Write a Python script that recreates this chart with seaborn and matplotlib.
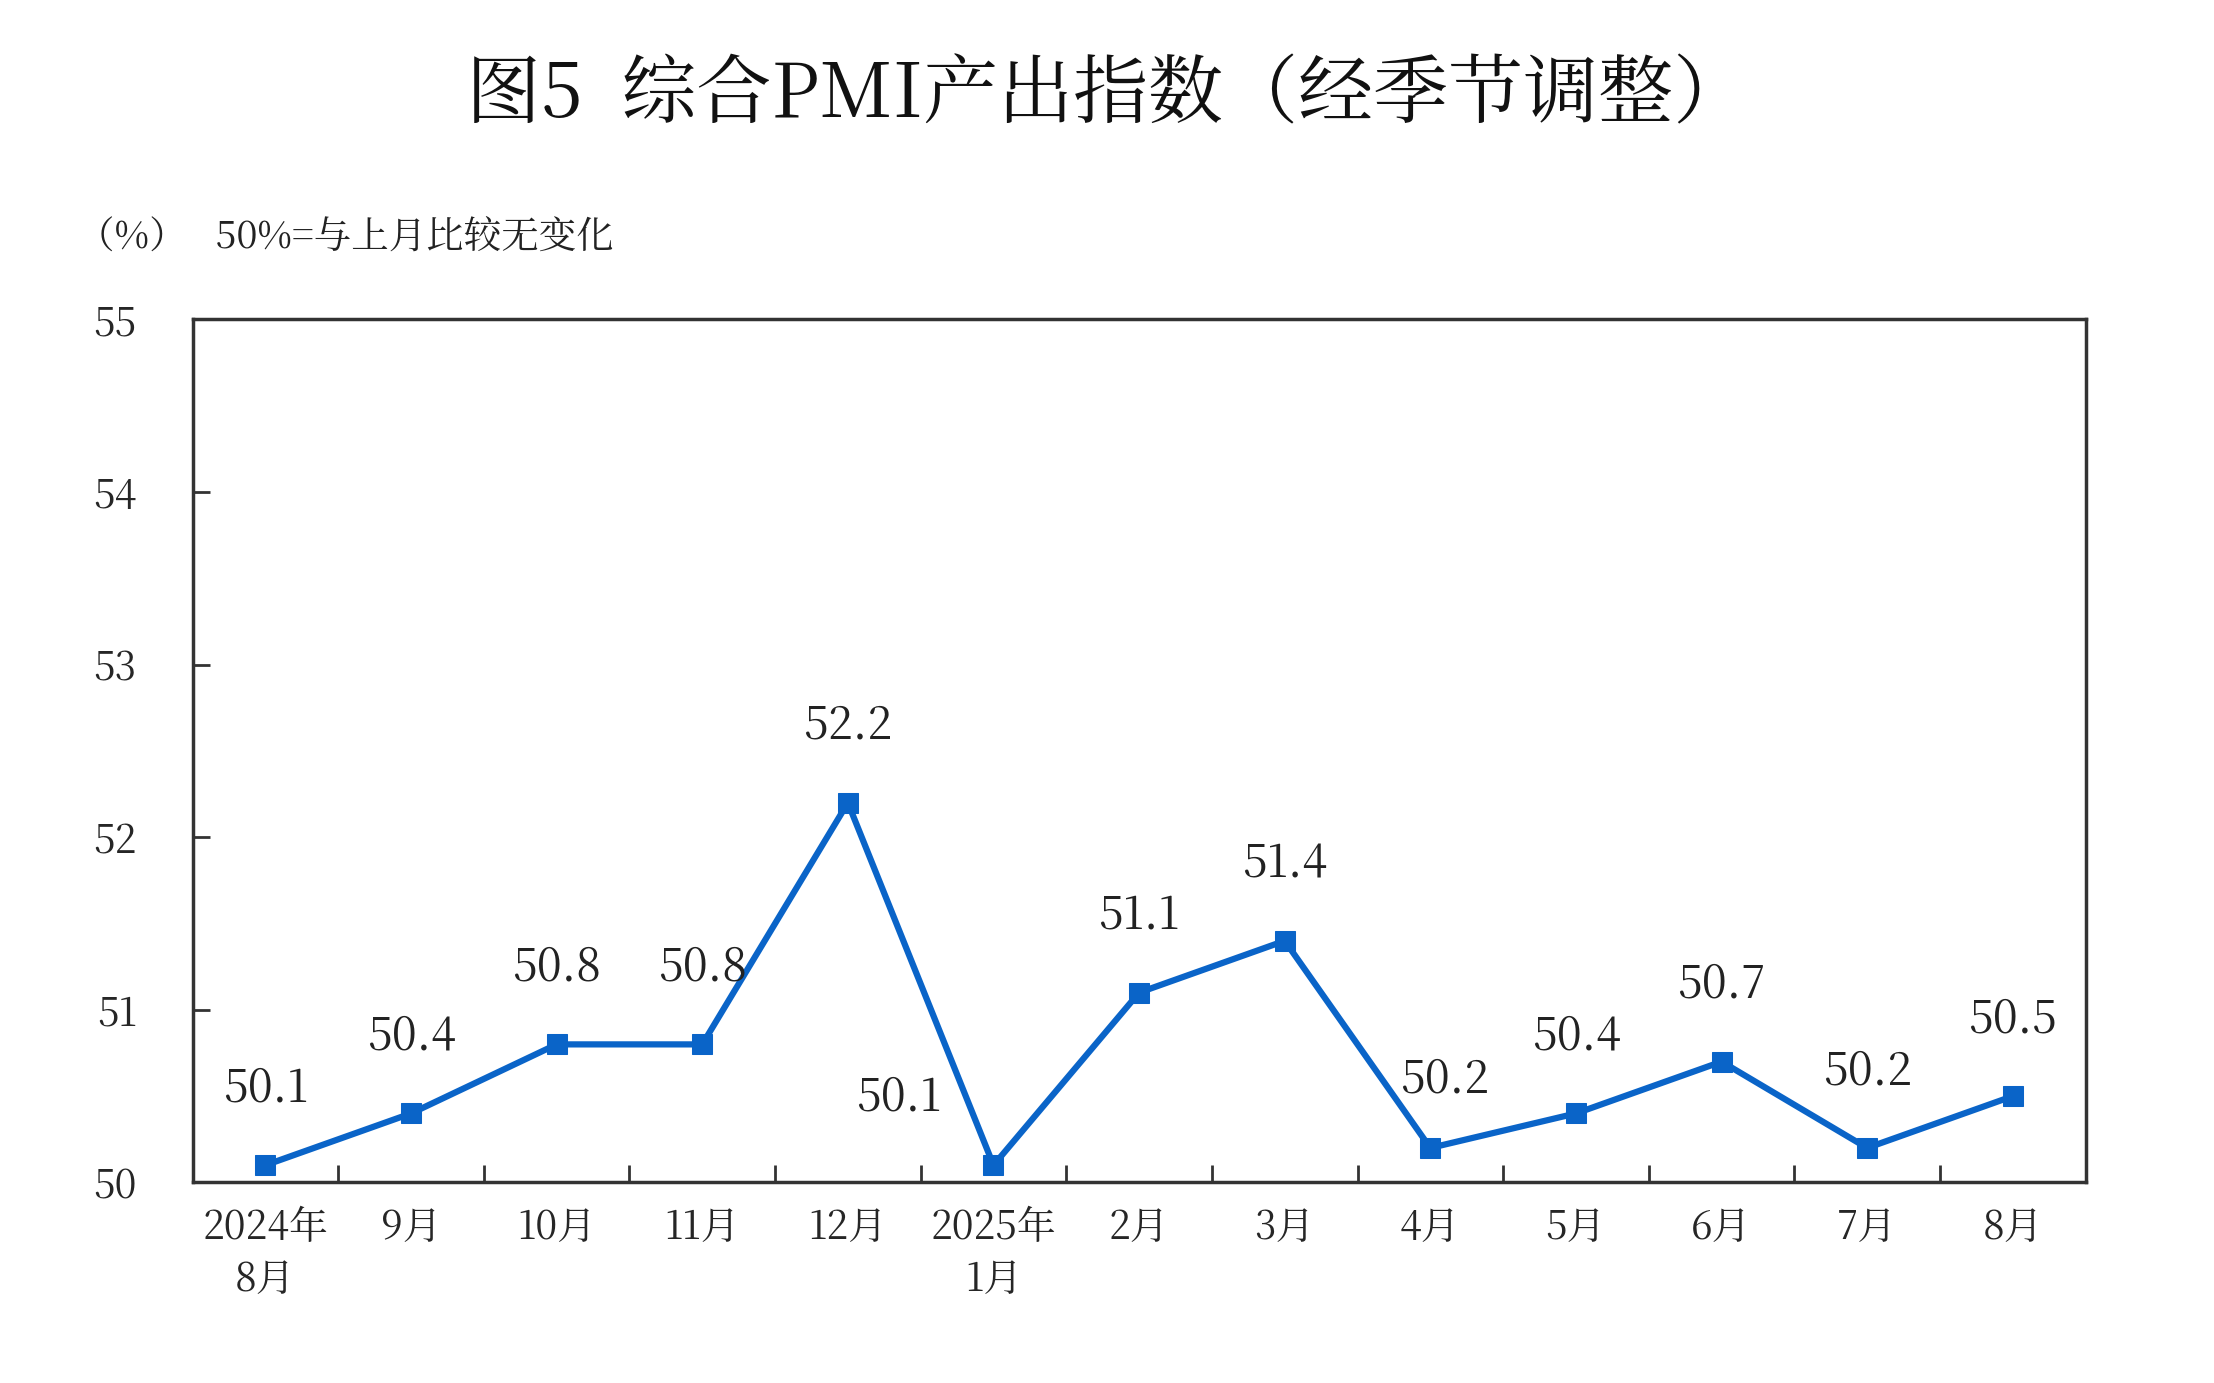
import matplotlib
matplotlib.use("Agg")
import matplotlib.pyplot as plt
from matplotlib import font_manager as fm
import seaborn as sns
import pandas as pd
from matplotlib.ticker import FixedLocator

months = ["2024年\n8月", "9月", "10月", "11月", "12月", "2025年\n1月", "2月", "3月", "4月", "5月", "6月", "7月", "8月"]
values = [50.1, 50.4, 50.8, 50.8, 52.2, 50.1, 51.1, 51.4, 50.2, 50.4, 50.7, 50.2, 50.5]
yticks = [50, 51, 52, 53, 54, 55]

sns.set_style("white")
fam = "DejaVu Sans"
for f in fm.findSystemFonts():
    if "NotoSansCJK" in f.replace(" ", "") or "NotoSerifCJK" in f.replace(" ", ""):
        fm.fontManager.addfont(f)
        fam = fm.FontProperties(fname=f).get_name()
        if "Serif" in fam:
            break
plt.rcParams["font.family"] = [fam, "DejaVu Sans"]

df = pd.DataFrame({"x": range(len(values)), "v": values})

fig = plt.figure(figsize=(22.14, 13.83), dpi=100)
ax = fig.add_axes([0.087, 0.145, 0.855, 0.624])
color = "#0a64c8"
sns.lineplot(data=df, x="x", y="v", ax=ax, color=color, linewidth=4.5,
             marker="s", markersize=15, markeredgecolor=color)
ax.set_xlim(-0.5, len(values) - 0.5)
ax.set_ylim(50, 55)
ax.set_yticks(yticks)
ax.set_yticklabels([str(t) for t in yticks], fontsize=28)
ax.set_xticks(range(len(values)))
ax.set_xticklabels(months, fontsize=28, va="top", linespacing=1.3)
ax.tick_params(axis="x", which="major", length=0, pad=18, bottom=True)
ax.xaxis.set_minor_locator(FixedLocator([i + 0.5 for i in range(len(values) - 1)]))
ax.tick_params(axis="x", which="minor", direction="in", length=12, width=2, bottom=True, color="#333333")
ax.tick_params(axis="y", direction="in", length=12, width=2, pad=40, left=True, color="#333333")
ax.set_xlabel(""); ax.set_ylabel("")
for s in ax.spines.values():
    s.set_linewidth(2.5); s.set_color("#333333")

offsets = {5: (-0.65, 0.25), 8: (0.1, 0.25)}
for i, v in enumerate(values):
    dx, dy = offsets.get(i, (0, 0.3))
    ax.text(i + dx, v + dy, f"{v:.1f}", ha="center", va="bottom", fontsize=32, color="#222222")

fig.text(0.5, 0.93, "图5  综合PMI产出指数（经季节调整）", ha="center", va="center", fontsize=54, color="#111111")
fig.text(0.035, 0.828, "（%）   50%=与上月比较无变化", ha="left", va="center", fontsize=27, color="#222222")
fig.savefig("out.png", dpi=100, facecolor="white")
